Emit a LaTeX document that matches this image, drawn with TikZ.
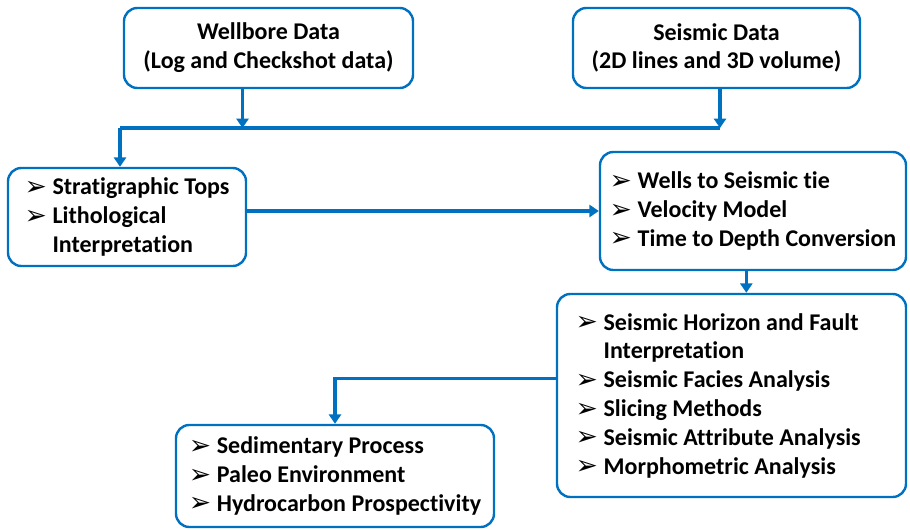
\documentclass[tikz,border=0pt]{standalone}
\usepackage{fontspec}
\setmainfont{Carlito}[Ligatures=NoCommon]
\newfontfamily\dingfont{DejaVu Sans}
\usepackage{tikz}
\usetikzlibrary{positioning, calc, arrows.meta}
\definecolor{flowblue}{HTML}{0070C0}
\newcommand{\bul}{\makebox[21pt][l]{\raisebox{-0.5pt}{\dingfont\mdseries\fontsize{20}{20}\selectfont ➢}}}
\newcommand{\ind}{\hphantom{\bul}}
\tikzstyle{Arrow} = [
    line width = 2.3pt,
    draw = flowblue,
    -{Triangle[width=9pt, length=7pt]}
]
\tikzstyle{Line} = [
    line width = 2.3pt,
    draw = flowblue
]

\begin{document}
\begin{tikzpicture}[
x = 0.75pt, y = -0.75pt,
box/.style={
    draw = flowblue,
    line width = 1.8pt,
    rounded corners = 10pt,
    fill = white,
    font = \bfseries\fontsize{18}{21.6}\selectfont
    },
list/.style={
    box,
    align = left
    }
]
\useasboundingbox (0,0) rectangle (910,530);

\node [box, align = center, minimum width = 216.75pt, minimum height = 60pt] (wb) at (268.5,48) {
    Wellbore Data\\
    (Log and Checkshot data)
};
\node [box, align = center, minimum width = 215.25pt, minimum height = 60pt] (sd) at (716.5,48) {
    Seismic Data\\
    (2D lines and 3D volume)
};
\node [list, minimum width = 178.5pt, minimum height = 73.5pt] (st) at (127,217) {
    \bul Stratigraphic Tops\\
    \bul Lithological\\
    \ind Interpretation
};
\node [list, minimum width = 229.5pt, minimum height = 88.5pt] (wt) at (753,211) {
    \bul Wells to Seismic tie\\
    \bul Velocity Model\\
    \bul Time to Depth Conversion
};
\node [list, minimum width = 261.75pt, minimum height = 152.25pt] (hz) at (731.5,395.5) {
    \bul Seismic Horizon and Fault\\
    \ind Interpretation\\
    \bul Seismic Facies Analysis\\
    \bul Slicing Methods\\
    \bul Seismic Attribute Analysis\rule{20pt}{0pt}\\
    \bul Morphometric Analysis
};
\node [list, minimum width = 238.5pt, minimum height = 76.5pt] (sp) at (335,476) {
    \bul Sedimentary Process\\
    \bul Paleo Environment\\
    \bul Hydrocarbon Prospectivity
};

% junction of the two data sources
\coordinate (jl) at (120,128);
\coordinate (jr) at (720,128);

\draw[Arrow] ([xshift=-19.5pt]wb.south) -- ([xshift=-19.5pt]wb.south |- jl);
\draw[Arrow] (sd.south -| jr) -- (jr);
\draw[Line] (jl) -- (jr);
\draw[Arrow] (jl) -- (jl |- st.north);

\draw[Arrow] (st.east |- wt.west) -- (wt.west);
\draw[Arrow] ([xshift=-5pt]wt.south) -- ([xshift=-5pt]wt.south |- hz.north);
\draw[Arrow] ([yshift=13pt]hz.west) -| (sp.north);

\end{tikzpicture}
\end{document}
